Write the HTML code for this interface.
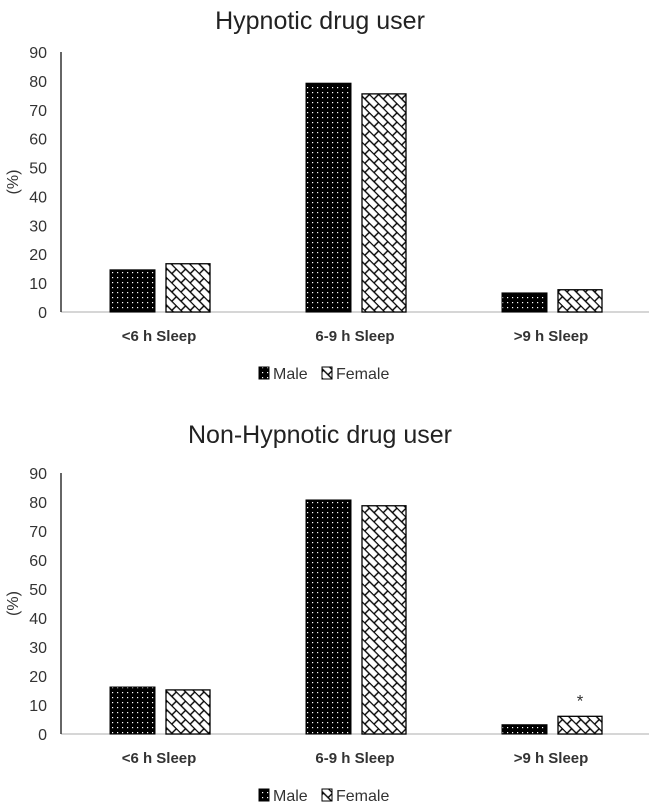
<!DOCTYPE html>
<html><head><meta charset="utf-8"><style>
body{margin:0;background:#fff;}
svg{display:block;font-family:"Liberation Sans",sans-serif;}
</style></head><body>
<svg id="c" width="649" height="806">
<defs>
<pattern id="dots" width="5" height="5" patternUnits="userSpaceOnUse">
<rect width="5" height="5" fill="#000"/><rect x="2" y="2" width="1.2" height="1.2" fill="#fff"/>
</pattern>
<pattern id="brick" width="13" height="13" patternUnits="userSpaceOnUse" patternTransform="rotate(45)">
<rect width="13" height="13" fill="#fff"/>
<line x1="0" y1="0.5" x2="13" y2="0.5" stroke="#000" stroke-width="1.4"/>
<line x1="0" y1="7" x2="13" y2="7" stroke="#000" stroke-width="1.4"/>
<line x1="3" y1="0.5" x2="3" y2="7" stroke="#000" stroke-width="1.4"/>
<line x1="9.5" y1="7" x2="9.5" y2="13.5" stroke="#000" stroke-width="1.4"/>
</pattern>
</defs>
</svg>
<script>
const categories = ["<6 h Sleep", "6-9 h Sleep", ">9 h Sleep"];
const ticks = [0,10,20,30,40,50,60,70,80,90];
const topMale = [14.6, 79.2, 6.6];
const topFemale = [16.7, 75.5, 7.7];
const botMale = [16.2, 80.7, 3.2];
const botFemale = [15.2, 78.7, 6.1];
const botStars = ["", "", "*"];

const svg = document.getElementById('c');
const NS = 'http://www.w3.org/2000/svg';
function mk(tag, attrs, parent){const e=document.createElementNS(NS,tag);for(const k in attrs)e.setAttribute(k,attrs[k]);(parent||svg).appendChild(e);return e;}

function chart(prefix, title, titleY, y0, y90, male, female, stars){
  const g = mk('g',{});
  
  
  const yS = v => y0 - (y0 - y90) * v / 90;
  const x0 = 61, catW = 196;
  const t = mk('text',{x:320,y:titleY,'text-anchor':'middle','font-size':25,fill:'#222'},g);
  t.textContent = title;
  
  
  for(const v of ticks){
    const l = mk('text',{x:47,y:yS(v)+6,'text-anchor':'end','font-size':16,fill:'#333'},g);
    l.textContent = v;
    
    
  }
  const yt = mk('text',{x:0,y:0,'text-anchor':'middle','font-size':16,fill:'#333',transform:`translate(18,${(y0+y90)/2}) rotate(-90)`},g);
  yt.textContent='(%)';
  
  
  const bl = mk('line',{x1:x0,x2:649,y1:y0,y2:y0,stroke:'#c8c8c8','stroke-width':1.5},g);
  
  
  const ax = mk('line',{x1:x0,x2:x0,y1:y90,y2:y0,stroke:'#333','stroke-width':1.5},g);
  
  
  categories.forEach((c,i)=>{
    const cx = x0 + catW*(i+0.5);
    const bw = 45;
    const m = mk('rect',{x:cx-bw-4,y:yS(male[i]),width:bw,height:y0-yS(male[i]),fill:'url(#dots)',stroke:'#000','stroke-width':1},g);
    
    
    const f = mk('rect',{x:cx+7,y:yS(female[i]),width:bw-1,height:y0-yS(female[i]),fill:'url(#brick)',stroke:'#000','stroke-width':1.3},g);
    
    
    if(stars && stars[i]){
      const s = mk('text',{x:cx+29,y:yS(female[i])-10,'text-anchor':'middle','font-size':17,fill:'#333'},g);
      s.textContent = stars[i];
      
      
    }
    const lab = mk('text',{x:cx,y:y0+29,'text-anchor':'middle','font-size':15,'font-weight':'bold',fill:'#333'},g);
    lab.textContent = c;
    
    
  });
  const ly = y0 + 61;
  const lg = mk('g',{},g);
  
  
  mk('rect',{x:259,y:ly-6,width:10,height:12,fill:'url(#dots)',stroke:'#000'},lg);
  const lm = mk('text',{x:273,y:ly+6,'font-size':16,fill:'#333'},lg);
  lm.textContent='Male';
  
  
  mk('rect',{x:322,y:ly-6,width:10,height:12,fill:'url(#brick)',stroke:'#000'},lg);
  const lf = mk('text',{x:336,y:ly+6,'font-size':16,fill:'#333'},lg);
  lf.textContent='Female';
  
  
}
chart('top','Hypnotic drug user',29,312,52,topMale,topFemale,null);
chart('bottom','Non-Hypnotic drug user',443,734,473,botMale,botFemale,botStars);
</script>
</body></html>
